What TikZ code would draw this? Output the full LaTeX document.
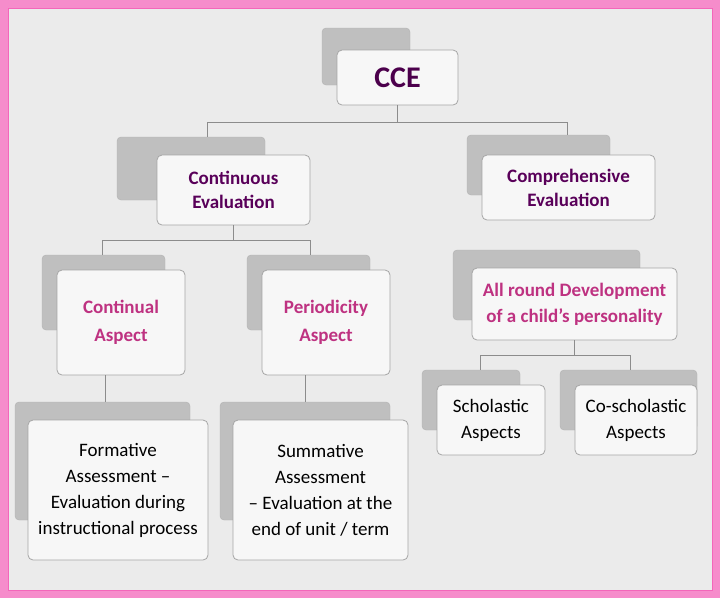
\documentclass[tikz,border=0pt]{standalone}
\usepackage{fontspec}
\setmainfont{Carlito}
\begin{document}
\begin{tikzpicture}[x=1pt,y=-1pt,
  back/.style={fill=black!25,draw=black!30,rounded corners=4pt},
  front/.style={fill=black!3,draw=black!35,line width=0.8pt,rounded corners=5pt,align=center},
  conn/.style={draw=black!45,line width=1pt},
  purp/.style={text=violet!70!black},
  mag/.style={text=magenta!75!black}]
\useasboundingbox (0,0) rectangle (720,598);
\fill[magenta!45] (0,0) rectangle (720,598);
\fill[black!8] (8,8) rectangle (712,590);
\draw[magenta!60,line width=1pt] (8,8) rectangle (712,590);
% back tabs
\foreach \a/\b/\c/\d in {322/28/410/85, 117/137/265/200, 467/135/610/195, 42/255/165/330, 247/255/370/330, 453/250/640/320, 422/370/520/430, 560/370/697/430, 15/402/190/520, 220/402/390/520}
  \path[back] (\a,\b) rectangle (\c,\d);
% front boxes
\node[front,minimum width=121pt,minimum height=55pt,font=\fontsize{30}{32}\selectfont\bfseries,text=violet!60!black] (cce) at (397.5,77.5) {CCE};
\node[front,minimum width=153pt,minimum height=70pt,font=\fontsize{19}{24}\selectfont\bfseries,purp] (ce) at (233.5,190) {Continuous\\Evaluation};
\node[front,minimum width=173pt,minimum height=65pt,font=\fontsize{19}{24}\selectfont\bfseries,purp] (comp) at (568.5,187.5) {Comprehensive\\Evaluation};
\node[front,minimum width=128pt,minimum height=105pt,font=\fontsize{19}{28}\selectfont\bfseries,mag] (ca) at (121,322.5) {Continual\\Aspect};
\node[front,minimum width=128pt,minimum height=105pt,font=\fontsize{19}{28}\selectfont\bfseries,mag] (pa) at (326,322.5) {Periodicity\\Aspect};
\node[front,minimum width=205pt,minimum height=72pt,font=\fontsize{19}{26}\selectfont\bfseries,mag] (ar) at (574.5,304) {All round Development\\of a child's personality};
\node[front,minimum width=108pt,minimum height=70pt,font=\fontsize{19}{26}\selectfont] (sc) at (491,420) {Scholastic\\Aspects};
\node[front,minimum width=122pt,minimum height=70pt,font=\fontsize{19}{26}\selectfont] (co) at (636,420) {Co-scholastic\\Aspects};
\node[front,minimum width=180pt,minimum height=140pt,font=\fontsize{19}{26}\selectfont] (fa) at (118,490) {Formative\\Assessment --\\Evaluation during\\instructional process};
\node[front,minimum width=175pt,minimum height=140pt,font=\fontsize{19}{26}\selectfont] (sa) at (320.5,490) {Summative\\Assessment\\-- Evaluation at the\\end of unit / term};
% connectors
\coordinate (cb) at (105,402);
\coordinate (pb) at (305,402);
\draw[conn] (cce.south) -- ++(0,17) -| (207,137);
\draw[conn] (cce.south) ++(0,17) -| (567,135);
\draw[conn] (ce.south) -- ++(0,15) -| (102,255);
\draw[conn] (ce.south) ++(0,15) -| (310,255);
\draw[conn] (ca.south -| cb) -- (cb);
\draw[conn] (pa.south -| pb) -- (pb);
\draw[conn] (ar.south) -- ++(0,15) -| (480,370);
\draw[conn] (ar.south) ++(0,15) -| (630,370);
\end{tikzpicture}
\end{document}
